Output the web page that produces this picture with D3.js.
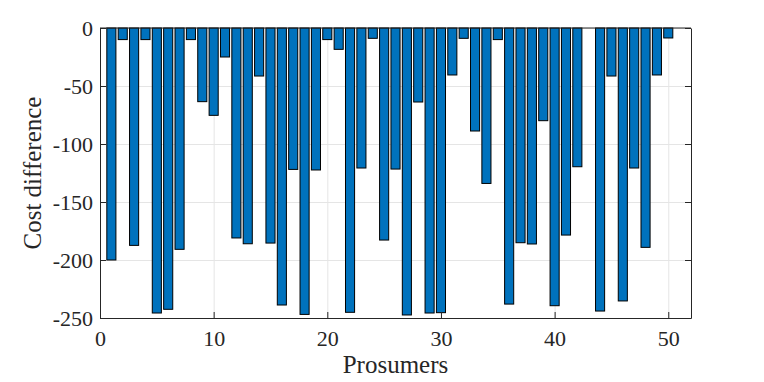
<!DOCTYPE html>
<html>
<head>
<meta charset="utf-8">
<script src="https://cdn.jsdelivr.net/npm/d3@7"></script>
<style>
body { margin: 0; background: #fff; }
.grid line { stroke: #e5e5e5; stroke-width: 1; }
.grid path { display: none; }
.axis path, .axis line { stroke: #262626; }
</style>
</head>
<body>
<div id="chart"></div>
<script>
// prosumer index and cost difference per prosumer
var prosumers = d3.range(1, 51);
var costDiff = [
  -200, -10, -187.4, -10, -245.7, -242.5, -190.8, -10, -63.5, -75.3,
  -25, -181, -186, -41.4, -185.4, -238.8, -121.9, -246.9, -122.4, -10,
  -18.4, -245.1, -120.7, -8.9, -182.8, -121.6, -247.4, -63.8, -245.7, -245.4,
  -40.5, -8.9, -88.8, -134, -10, -238, -185.1, -186.2, -79.9, -239.4,
  -178.5, -119.6, 0, -244, -41.4, -235.3, -120.7, -189.1, -40.5, -8.6
];
var xTicks = [0, 10, 20, 30, 40, 50];
var yTicks = [-250, -200, -150, -100, -50, 0];

var serif = "'Liberation Serif', 'DejaVu Serif', serif";

var margin = {top: 28, right: 73, bottom: 64, left: 100},
    width = 764 - margin.left - margin.right,
    height = 382 - margin.top - margin.bottom;

var svg = d3.select("#chart")
  .append("svg")
  .attr("width", 764)
  .attr("height", 382);

var g = svg.append("g")
  .attr("transform", "translate(" + margin.left + "," + margin.top + ")");

var x = d3.scaleLinear().domain([0, 52]).range([0, width]);
var y = d3.scaleLinear().domain([-250, 0]).range([height, 0]);

// grid
g.append("g")
  .attr("class", "grid")
  .attr("transform", "translate(0," + height + ")")
  .call(d3.axisBottom(x).tickValues(xTicks).tickSize(-height).tickFormat(""));
g.append("g")
  .attr("class", "grid")
  .call(d3.axisLeft(y).tickValues(yTicks).tickSize(-width).tickFormat(""));

// bars
var bw = (x(1) - x(0)) * 0.8;
g.selectAll(".bar")
  .data(costDiff)
  .enter().append("rect")
  .attr("class", "bar")
  .attr("x", function(d, i) { return x(prosumers[i]) - bw / 2; })
  .attr("y", function(d) { return y(Math.max(0, d)); })
  .attr("width", bw)
  .attr("height", function(d) { return Math.abs(y(d) - y(0)); })
  .attr("fill", "#0072bd")
  .attr("stroke", "#000")
  .attr("stroke-width", 1)
  .style("display", function(d) { return d === 0 ? "none" : null; });

// axes
var tickLen = 6;
var fmt = function(d) { return String(d); };
var xAxis = g.append("g")
  .attr("class", "axis")
  .attr("transform", "translate(0," + height + ")")
  .call(d3.axisBottom(x).tickValues(xTicks).tickFormat(fmt).tickSizeInner(-tickLen).tickSizeOuter(0).tickPadding(12));
xAxis.attr("font-family", serif).attr("font-size", 22);
xAxis.selectAll("text").attr("fill", "#262626");

var yAxis = g.append("g")
  .attr("class", "axis")
  .call(d3.axisLeft(y).tickValues(yTicks).tickFormat(fmt).tickSizeInner(-tickLen).tickSizeOuter(0).tickPadding(7));
yAxis.attr("font-family", serif).attr("font-size", 22);
yAxis.selectAll("text").attr("fill", "#262626");

g.append("g")
  .attr("class", "axis")
  .attr("transform", "translate(" + width + ",0)")
  .call(d3.axisRight(y).tickValues(yTicks).tickSizeInner(-tickLen).tickSizeOuter(0).tickFormat(""));

g.append("line")
  .attr("x1", 0).attr("x2", width).attr("y1", 0).attr("y2", 0)
  .attr("stroke", "#262626");

// labels
svg.append("text")
  .attr("x", margin.left + width / 2)
  .attr("y", 373)
  .attr("text-anchor", "middle")
  .attr("font-family", serif)
  .attr("font-size", 25)
  .attr("fill", "#262626")
  .text("Prosumers");

svg.append("text")
  .attr("transform", "translate(41," + (margin.top + height / 2) + ") rotate(-90)")
  .attr("text-anchor", "middle")
  .attr("font-family", serif)
  .attr("font-size", 25)
  .attr("fill", "#262626")
  .text("Cost difference");
</script>
</body>
</html>
